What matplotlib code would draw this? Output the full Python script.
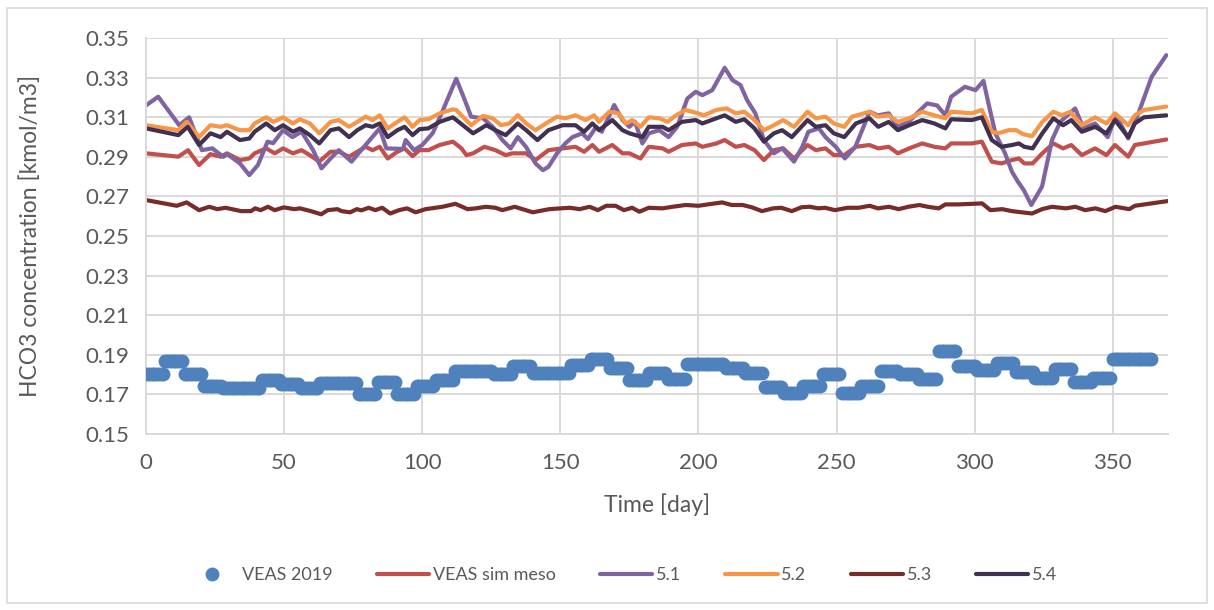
#!/usr/bin/env python
import numpy as np
import matplotlib
matplotlib.use("Agg")
import matplotlib.pyplot as plt
from matplotlib.patches import Rectangle

# %% data
# VEAS 2019 measurements: weekly values, shown as one dot per day
veas_weekly = [0.1805, 0.1869, 0.1803, 0.1742, 0.1730, 0.1730, 0.1773, 0.1752,
               0.1730, 0.1756, 0.1756, 0.1703, 0.1764, 0.1703, 0.1743, 0.1773,
               0.1817, 0.1817, 0.1804, 0.1843, 0.1808, 0.1808, 0.1851, 0.1877,
               0.1834, 0.1773, 0.1808, 0.1776, 0.1853, 0.1853, 0.1832, 0.1810,
               0.1737, 0.1708, 0.1742, 0.1802, 0.1708, 0.1742, 0.1819, 0.1805,
               0.1776, 0.1920, 0.1844, 0.1822, 0.1861, 0.1815, 0.1785, 0.1827,
               0.1764, 0.1785, 0.1878, 0.1878, 0.1878]

meso_day = [0, 11.7, 15.2, 19.2, 23.3, 27, 29.3, 34, 37.4, 39.3, 43.5, 46.6, 49.6, 53.2, 56.3,
            59.3, 62.7, 66.8, 69.8, 73.5, 76.5, 79.5, 82, 84.6, 87.5, 91, 93.6, 96.5, 99, 102.2,
            106.3, 111.1, 114.2, 116, 118.4, 122.5, 126.5, 130.2, 132.6, 137.6, 141, 145.7,
            150.8, 155.5, 158.6, 161.6, 164, 168.8, 172.5, 175, 179, 182, 187, 189.2, 194, 199,
            201.4, 206.5, 209.5, 213.5, 216.6, 220.3, 223.7, 227.3, 230.7, 234.6, 239.5, 242.5,
            246, 249, 252.8, 257, 261.9, 265.1, 268.9, 272.2, 276.3, 281, 285.4, 289.4, 291.5,
            299, 302.6, 306.2, 309.7, 313.5, 316, 318, 321, 324.5, 328.5, 332, 335, 338.8,
            343.6, 347.7, 350.8, 355.6, 358, 361.3, 369.4]
meso_val = [0.2918, 0.2901, 0.2934, 0.2859, 0.2914, 0.2901, 0.2918, 0.2884, 0.2892, 0.2918,
            0.2943, 0.2918, 0.2943, 0.2918, 0.2934, 0.2909, 0.2876, 0.2926, 0.2926, 0.2901,
            0.2926, 0.2951, 0.2934, 0.2951, 0.2892, 0.2926, 0.2943, 0.2904, 0.2934, 0.2934,
            0.2960, 0.2977, 0.2943, 0.2909, 0.2918, 0.2951, 0.2934, 0.2909, 0.2918, 0.2918,
            0.2884, 0.2934, 0.2943, 0.2951, 0.2926, 0.2960, 0.2926, 0.2960, 0.2918, 0.2918,
            0.2892, 0.2951, 0.2943, 0.2926, 0.2960, 0.2968, 0.2951, 0.2968, 0.2985, 0.2951,
            0.2960, 0.2934, 0.2884, 0.2934, 0.2943, 0.2892, 0.2960, 0.2934, 0.2943, 0.2909,
            0.2909, 0.2951, 0.2960, 0.2943, 0.2951, 0.2918, 0.2943, 0.2968, 0.2951, 0.2943,
            0.2968, 0.2968, 0.2977, 0.2876, 0.2867, 0.2884, 0.2892, 0.2867, 0.2867, 0.2918,
            0.2968, 0.2943, 0.2960, 0.2909, 0.2943, 0.2909, 0.2960, 0.2901, 0.2960, 0.2968,
            0.2988]

s51_day = [0, 4.4, 12, 15.6, 20.2, 24, 28, 29.3, 34, 37.4, 40.5, 44, 46, 49.6, 53, 56.3, 60.5,
           63.5, 66.8, 69.8, 74.4, 77.4, 81, 84.6, 87, 93, 94, 97, 100, 103.8, 107, 112.3,
           115.4, 117.7, 122, 125.5, 129, 132, 134.6, 137.6, 141, 143.7, 145.7, 148.8, 151.8,
           154.4, 157.9, 160, 163, 165, 169.5, 172.5, 175, 177, 179.7, 182, 185.8, 189.2,
           192.3, 196, 199, 201.4, 205, 209.5, 212.3, 215.2, 217.6, 220.6, 223.7, 227.3,
           230.3, 234.6, 237.6, 239.8, 243.6, 246, 249.7, 253, 256.8, 262, 265, 268.9, 272.2,
           276.2, 279.7, 282.8, 286.4, 289.4, 291.5, 296.5, 300.3, 303.2, 305, 307.5, 311,
           313.5, 315.7, 317.8, 320.5, 324.4, 328, 331, 336.4, 339.4, 343.6, 348.2, 351.2,
           355.6, 359.3, 364.1, 369.4]
s51_val = [0.3160, 0.3204, 0.3060, 0.3100, 0.2934, 0.2943, 0.2900, 0.2915, 0.2867, 0.2808,
           0.2859, 0.2977, 0.2969, 0.3035, 0.3000, 0.3027, 0.2934, 0.2842, 0.2892, 0.2934,
           0.2876, 0.2926, 0.2985, 0.3044, 0.2943, 0.2940, 0.2985, 0.2934, 0.2960, 0.3020,
           0.3120, 0.3295, 0.3187, 0.3103, 0.3095, 0.3052, 0.2985, 0.2943, 0.3000, 0.2950,
           0.2867, 0.2833, 0.2850, 0.2918, 0.2968, 0.3000, 0.3019, 0.2990, 0.3052, 0.3027,
           0.3162, 0.3086, 0.3052, 0.3078, 0.2968, 0.3019, 0.3035, 0.3000, 0.3052, 0.3195,
           0.3229, 0.3212, 0.3237, 0.3350, 0.3288, 0.3263, 0.3187, 0.3120, 0.2985, 0.2918,
           0.2943, 0.2876, 0.2951, 0.3027, 0.3044, 0.3000, 0.2951, 0.2892, 0.2951, 0.3128,
           0.3110, 0.3120, 0.3052, 0.3078, 0.3128, 0.3170, 0.3160, 0.3110, 0.3204, 0.3254,
           0.3237, 0.3284, 0.3170, 0.3019, 0.2918, 0.2825, 0.2774, 0.2732, 0.2657, 0.2750,
           0.2985, 0.3077, 0.3145, 0.3044, 0.3069, 0.3000, 0.3110, 0.2993, 0.3120, 0.3305,
           0.3414]

s52_day = [0, 11.7, 14.7, 19.2, 23.3, 27, 29.3, 34, 37.4, 39.3, 43.5, 46.1, 49.6, 53.2, 55.7,
           59.3, 62.7, 66.8, 69.8, 73.5, 76.5, 79.5, 82, 84.6, 87.5, 91, 93.6, 96.5, 99, 102.2,
           106.3, 111.1, 112.3, 117.7, 122, 125.5, 128.5, 131.6, 134.6, 137.6, 141, 145.7,
           148.8, 151.8, 155.5, 159.2, 162.2, 164, 167.7, 171, 173.8, 176, 179, 182, 185.8,
           188.8, 191.9, 195.3, 199, 202, 206.5, 210.2, 213.5, 216.6, 220.3, 223.7, 227.3,
           230.7, 234.6, 239.5, 242.5, 246, 249, 252.8, 255.6, 261.9, 265.1, 268.9, 272.2,
           276.3, 281, 285.4, 289.4, 291.5, 299, 302.6, 306.2, 308.7, 312.3, 315, 317.5, 320.8,
           324.5, 328.5, 331.5, 334.6, 338.8, 343.6, 347.7, 350.8, 355.6, 358, 361.3, 369.4]
s52_val = [0.3060, 0.3035, 0.3077, 0.3000, 0.3060, 0.3052, 0.3060, 0.3035, 0.3035, 0.3069,
           0.3100, 0.3077, 0.3100, 0.3069, 0.3090, 0.3069, 0.3019, 0.3077, 0.3086, 0.3052,
           0.3077, 0.3103, 0.3086, 0.3110, 0.3044, 0.3077, 0.3100, 0.3052, 0.3086, 0.3090,
           0.3120, 0.3140, 0.3137, 0.3060, 0.3107, 0.3095, 0.3060, 0.3069, 0.3111, 0.3069,
           0.3035, 0.3077, 0.3103, 0.3095, 0.3110, 0.3086, 0.3110, 0.3077, 0.3128, 0.3120,
           0.3069, 0.3086, 0.3052, 0.3100, 0.3095, 0.3077, 0.3110, 0.3137, 0.3123, 0.3110,
           0.3137, 0.3145, 0.3120, 0.3128, 0.3086, 0.3035, 0.3060, 0.3086, 0.3052, 0.3128,
           0.3095, 0.3103, 0.3069, 0.3052, 0.3103, 0.3128, 0.3103, 0.3110, 0.3077, 0.3095,
           0.3128, 0.3110, 0.3095, 0.3128, 0.3120, 0.3137, 0.3027, 0.3020, 0.3035, 0.3035,
           0.3015, 0.3005, 0.3077, 0.3128, 0.3110, 0.3128, 0.3060, 0.3100, 0.3069, 0.3120,
           0.3060, 0.3110, 0.3137, 0.3154]

s53_day = [0, 11.1, 14.7, 19.2, 22.9, 25.8, 28.8, 34.4, 38, 39.5, 41.5, 44.1, 46.6, 49.9, 53.6,
           55.7, 59.7, 63.4, 65.8, 69.3, 70.8, 73.9, 76.3, 78, 80.6, 83, 85.5, 88.4, 91.6, 94.5,
           97.6, 101.2, 107.3, 112, 116.4, 119.4, 123, 126.5, 129, 133.5, 140, 146, 153.4, 157,
           160.6, 163.6, 166.6, 170, 173, 176, 178.6, 182, 187, 190.6, 195.4, 200, 204.4, 208.6,
           212, 216, 219.4, 223, 227, 230, 233.8, 237.4, 240.4, 243.4, 245.8, 249.4, 254, 258,
           262, 265, 269, 272.5, 276, 280, 283, 287, 289.4, 294, 302.7, 305.7, 310, 313.5, 317,
           320.8, 324.4, 328, 333, 336.5, 340, 343.7, 347.3, 351, 356, 358, 370]
s53_val = [0.2682, 0.2653, 0.2670, 0.2631, 0.2648, 0.2636, 0.2643, 0.2626, 0.2626, 0.2640,
           0.2631, 0.2648, 0.2631, 0.2645, 0.2636, 0.2640, 0.2626, 0.2610, 0.2631, 0.2636,
           0.2626, 0.2620, 0.2636, 0.2630, 0.2643, 0.2631, 0.2643, 0.2614, 0.2631, 0.2640,
           0.2620, 0.2636, 0.2648, 0.2663, 0.2636, 0.2640, 0.2648, 0.2643, 0.2631, 0.2648,
           0.2620, 0.2636, 0.2643, 0.2636, 0.2648, 0.2631, 0.2653, 0.2653, 0.2631, 0.2643,
           0.2623, 0.2643, 0.2640, 0.2648, 0.2657, 0.2653, 0.2662, 0.2670, 0.2657, 0.2657,
           0.2645, 0.2626, 0.2640, 0.2643, 0.2626, 0.2646, 0.2648, 0.2640, 0.2643, 0.2631,
           0.2643, 0.2643, 0.2653, 0.2640, 0.2648, 0.2636, 0.2648, 0.2657, 0.2648, 0.2640,
           0.2660, 0.2660, 0.2665, 0.2631, 0.2636, 0.2626, 0.2620, 0.2614, 0.2636, 0.2648,
           0.2640, 0.2648, 0.2631, 0.2640, 0.2626, 0.2648, 0.2636, 0.2653, 0.2677]

s54_day = [0, 11.7, 15.1, 19.2, 23.3, 27, 29.3, 34, 37.4, 39.3, 43.5, 46.6, 49.6, 53.2, 55.7,
           59.3, 62.7, 66.8, 69.8, 73.5, 76.5, 79.5, 82, 84.6, 87.5, 91, 93.6, 96.5, 99, 102.2,
           106.3, 111.1, 118.4, 123.2, 126.5, 130.2, 134.6, 137.6, 141.7, 145.7, 150.8, 155.5,
           158.6, 161.6, 164, 168.8, 172.5, 175, 179.7, 182, 187, 189.2, 194, 199, 201.4, 206.5,
           209.5, 213.5, 216.6, 220.3, 223.7, 227.3, 230.3, 233.8, 239.5, 242.5, 246, 249,
           252.8, 257, 261.9, 265.1, 268.9, 272.2, 276.3, 281, 285.4, 289.4, 291.5, 299, 302.6,
           306.2, 309.7, 313.5, 316, 318, 321, 324.5, 328.5, 332, 335, 338.8, 343.6, 347.7,
           350.8, 355.6, 358, 361.3, 369.4]
s54_val = [0.3044, 0.3010, 0.3052, 0.2960, 0.3019, 0.3000, 0.3027, 0.2985, 0.2993, 0.3027,
           0.3069, 0.3035, 0.3060, 0.3027, 0.3044, 0.3010, 0.2968, 0.3035, 0.3044, 0.3000,
           0.3035, 0.3060, 0.3052, 0.3069, 0.3000, 0.3035, 0.3052, 0.3010, 0.3040, 0.3044,
           0.3077, 0.3100, 0.3019, 0.3060, 0.3035, 0.3010, 0.3069, 0.3035, 0.2985, 0.3035,
           0.3060, 0.3060, 0.3027, 0.3069, 0.3035, 0.3086, 0.3035, 0.3019, 0.3000, 0.3052,
           0.3052, 0.3035, 0.3077, 0.3086, 0.3069, 0.3095, 0.3110, 0.3077, 0.3090, 0.3044,
           0.2977, 0.3019, 0.3035, 0.3000, 0.3086, 0.3052, 0.3060, 0.3019, 0.3000, 0.3069,
           0.3095, 0.3052, 0.3077, 0.3035, 0.3060, 0.3086, 0.3069, 0.3044, 0.3090, 0.3086,
           0.3100, 0.2985, 0.2951, 0.2960, 0.2968, 0.2951, 0.2943, 0.3019, 0.3095, 0.3060,
           0.3086, 0.3027, 0.3052, 0.3019, 0.3086, 0.3000, 0.3069, 0.3100, 0.3110]

# %% one dot per day for the weekly measurements
veas_val = np.repeat(veas_weekly, 7)[:365]
veas_day = np.arange(len(veas_val))

plt.rcParams['font.family'] = ['Lato', 'DejaVu Sans']
txt = '#595959'
grid = '#D9D9D9'

fig = plt.figure(figsize=(12.14, 6.10), dpi=100)
ax = fig.add_axes([0.1203, 0.2885, 0.8418, 0.649])

ax.plot(veas_day, veas_val, 'o', color='#4F81BD', markersize=10, markeredgewidth=0,
        label='VEAS 2019', zorder=3)
ax.plot(meso_day, meso_val, color='#C0504D', lw=3, label='VEAS sim meso', solid_capstyle='round')
ax.plot(s51_day, s51_val, color='#8064A2', lw=3, label='5.1', solid_capstyle='round')
ax.plot(s52_day, s52_val, color='#F79646', lw=3, label='5.2', solid_capstyle='round')
ax.plot(s53_day, s53_val, color='#772C2A', lw=3, label='5.3', solid_capstyle='round')
ax.plot(s54_day, s54_val, color='#403152', lw=3, label='5.4', solid_capstyle='round')

ax.set_xlim(0, 370)
ax.set_ylim(0.15, 0.35)
ax.set_xticks(np.arange(0, 351, 50))
ax.set_yticks(np.arange(0.15, 0.351, 0.02))
ax.yaxis.set_major_formatter(matplotlib.ticker.FormatStrFormatter('%.2f'))
ax.grid(True, color=grid, lw=1.4)
ax.set_axisbelow(True)
ax.tick_params(length=0, labelsize=16, colors=txt)
ax.tick_params(axis='x', pad=14)
ax.tick_params(axis='y', pad=12)
for side in ['top', 'right']:
    ax.spines[side].set_visible(False)
for side in ['left', 'bottom']:
    ax.spines[side].set_color(grid)
    ax.spines[side].set_linewidth(1.4)

ax.set_xlabel('Time [day]', fontsize=16.5, color=txt, va='center')
ax.set_ylabel('HCO3 concentration [kmol/m3]', fontsize=16.5, color=txt, va='center')
ax.xaxis.set_label_coords(0.5, -0.179)
ax.yaxis.set_label_coords(-0.1135, 0.5)

leg = fig.legend(loc='center', bbox_to_anchor=(0.512, 0.057), ncol=6, frameon=False,
                 fontsize=13, handlelength=2.9, handletextpad=0.2, columnspacing=2.45,
                 numpoints=1)
for t in leg.get_texts():
    t.set_color(txt)

# chart border
fig.patches.append(Rectangle((0.006, 0.012), 0.988, 0.975, transform=fig.transFigure,
                             fill=False, edgecolor=grid, lw=1.2))

plt.savefig('out.png', dpi=100)
